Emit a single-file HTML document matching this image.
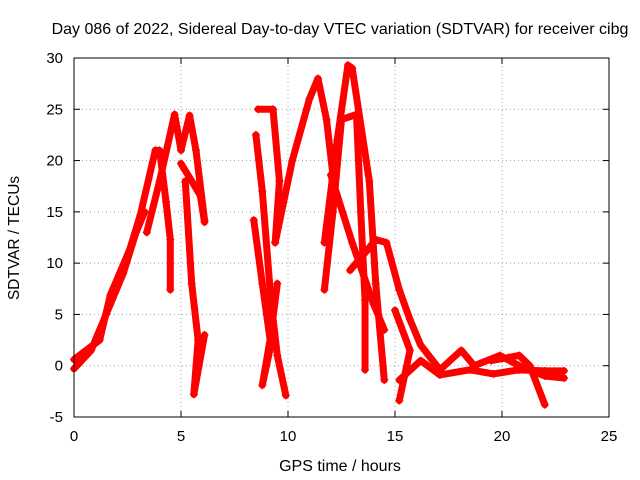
<!DOCTYPE html>
<html><head><meta charset="utf-8"><style>
html,body{margin:0;padding:0;background:#fff;}
svg{display:block;font-family:"Liberation Sans",sans-serif;}
</style></head><body>
<svg id="chart" width="640" height="480" viewBox="0 0 640 480">
<text x="340" y="34" font-size="16" text-anchor="middle">Day 086 of 2022, Sidereal Day-to-day VTEC variation (SDTVAR) for receiver cibg</text>
<text x="340" y="471" font-size="16" text-anchor="middle">GPS time / hours</text>
<text transform="translate(19,238) rotate(-90)" font-size="15.5" text-anchor="middle">SDTVAR / TECUs</text>
<g id="grid"></g>
<g id="series"></g>
<rect x="74" y="58" width="535" height="359" fill="none" stroke="#000" stroke-width="1"/>
</svg>
<script>
const xTicks=[0,5,10,15,20,25];
const yTicks=[-5,0,5,10,15,20,25,30];
const traceA=[[0,0.6],[1.2,2.5],[1.7,6.9],[2.6,11.3],[3.1,14.7],[3.8,21],[4.0,21],[4.3,16],[4.5,12.3],[4.5,7.4]];
const traceA2=[[0,-0.3],[0.8,1.5],[1.5,5],[2.3,9],[2.9,13],[3.3,15]];
const traceB=[[3.4,13],[4.0,18],[4.7,24.5],[5.0,21],[5.4,24.4],[5.7,21],[6.1,14.2]];
const traceC=[[5.0,19.7],[5.5,18],[5.9,16.6],[6.1,14]];
const traceD=[[5.2,18],[5.5,8],[5.8,2.5],[5.6,-2.8],[6.1,3]];
const traceE=[[8.5,22.5],[8.8,17],[9.2,6.4],[9.5,1],[9.9,-2.9]];
const traceF=[[8.4,14.2],[8.8,8],[9.2,2],[8.8,-1.9],[9.2,3],[9.5,8]];
const traceG=[[8.6,25],[9.3,25],[9.6,18],[9.4,12]];
const traceH=[[9.4,12],[10.2,20],[11.0,26],[11.4,28],[11.8,24],[12.1,18.6]];
const traceI=[[11.7,12],[12.3,22],[12.8,29.3],[13.0,29],[13.8,18],[14.1,8],[14.5,-1.4]];
const traceJ=[[11.7,7.4],[12.1,15],[12.5,24],[13.2,24.5],[13.4,15],[13.6,6.4],[13.6,-0.4]];
const traceK=[[12.0,18.6],[13.0,12],[14.0,6],[14.5,3.5]];
const traceL=[[12.9,9.3],[13.6,11],[14.1,12.3],[14.6,12],[15.2,7.4],[15.7,4.5],[16.2,2],[17.1,-0.4],[18.1,1.5],[18.7,0],[19.9,1],[20.8,0],[22,-1],[22.9,-1.2]];
const traceM=[[15.2,-1.4],[16.2,0.5],[17.1,-0.9],[18.5,-0.4],[19.6,-0.8],[20.8,-0.4],[22,-0.5],[22.9,-0.5]];
const traceN=[[19.5,0.5],[20.3,0.8],[20.8,1],[21.3,0],[22,-3.8]];
const traceO=[[15,5.4],[15.7,1.5],[15.2,-3.4]];
const traces=[traceA,traceA2,traceB,traceC,traceD,traceE,traceF,traceG,traceH,traceI,traceJ,traceK,traceL,traceM,traceN,traceO];

const X=h=>74+(h-0)*535/25;
const Y=v=>417-(v+5)*359/35;
const NS="http://www.w3.org/2000/svg";
const grid=document.getElementById('grid');
const ser=document.getElementById('series');
function mk(tag,attrs,parent){const e=document.createElementNS(NS,tag);for(const k in attrs)e.setAttribute(k,attrs[k]);parent.appendChild(e);return e;}
xTicks.forEach(t=>{
  const l=mk('line',{x1:X(t),x2:X(t),y1:58,y2:417,stroke:'#a0a0a0','stroke-dasharray':'1,3'},grid);
  
  
  mk('line',{x1:X(t),x2:X(t),y1:417,y2:411,stroke:'#000'},grid);
  mk('line',{x1:X(t),x2:X(t),y1:58,y2:64,stroke:'#000'},grid);
  const tx=mk('text',{x:X(t),y:441,'font-size':15,'text-anchor':'middle'},grid);
  tx.textContent=t;
  
  
});
yTicks.forEach(t=>{
  const l=mk('line',{x1:74,x2:609,y1:Y(t),y2:Y(t),stroke:'#a0a0a0','stroke-dasharray':'1,3'},grid);
  
  
  mk('line',{x1:74,x2:80,y1:Y(t),y2:Y(t),stroke:'#000'},grid);
  mk('line',{x1:603,x2:609,y1:Y(t),y2:Y(t),stroke:'#000'},grid);
  const tx=mk('text',{x:63,y:Y(t)+5,'font-size':15,'text-anchor':'end'},grid);
  tx.textContent=t;
  
  
});
traces.forEach((tr,i)=>{
  const p=mk('polyline',{points:tr.map(d=>X(d[0])+','+Y(d[1])).join(' '),fill:'none',stroke:'#ff0000','stroke-width':7,'stroke-linejoin':'round','stroke-linecap':'round'},ser);
  
  
  tr.forEach(d=>{
    const x=X(d[0]),y=Y(d[1]);
    const m=mk('path',{d:`M${x-4},${y}H${x+4}M${x},${y-4}V${y+4}`,stroke:'#ff0000','stroke-width':1.2},ser);
    
    
  });
});
</script>
</body></html>
